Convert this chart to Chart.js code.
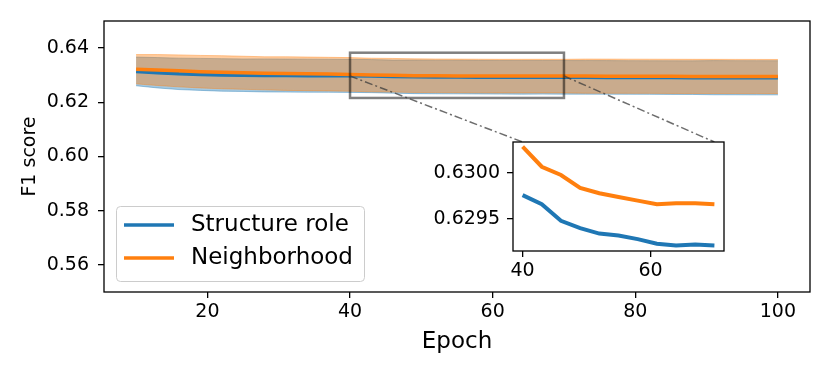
<!DOCTYPE html>
<html>
<head>
<meta charset="utf-8">
<script src="https://cdn.jsdelivr.net/npm/chart.js@4.4.1/dist/chart.umd.min.js"></script>
<style>
body { margin: 0; background: #fff; }
#wrap { position: relative; width: 830px; height: 374px; }
#mainChart { position: absolute; left: 0; top: 0; }
#insetChart { position: absolute; left: 420px; top: 135px; }
</style>
</head>
<body>
<div id="wrap">
<canvas id="mainChart" width="830" height="374"></canvas>
<canvas id="insetChart" width="315" height="150"></canvas>
</div>
<script>
// datos
var epochs = [10, 13, 16, 19, 22, 25, 28, 31, 34, 37, 40, 43, 46, 49, 52, 55, 58, 61, 64, 67, 70,
	73, 76, 79, 82, 85, 88, 91, 94, 97, 100];

var structureMean = [0.6314, 0.6309, 0.6305, 0.6303, 0.6301, 0.6300, 0.62992, 0.62987, 0.62983, 0.62980,
	0.62976, 0.62966, 0.62948, 0.62940, 0.62934, 0.62932, 0.62928, 0.62923, 0.62921, 0.62922, 0.62921,
	0.62920, 0.62918, 0.62916, 0.62914, 0.62912, 0.62910, 0.62908, 0.62907, 0.62905, 0.62904];
var structureStd = [0.0053, 0.0056, 0.0058, 0.0059, 0.0060, 0.0060, 0.0061, 0.0061, 0.0061, 0.0061,
	0.0061, 0.0061, 0.0061, 0.0062, 0.0062, 0.0062, 0.0062, 0.0062, 0.0062, 0.0062, 0.0062,
	0.0062, 0.0062, 0.0062, 0.0062, 0.0062, 0.0062, 0.0063, 0.0063, 0.0063, 0.0063];

var neighborMean = [0.6322, 0.6319, 0.6316, 0.6313, 0.6311, 0.6309, 0.6307, 0.6306, 0.6305, 0.6304,
	0.63029, 0.63007, 0.62998, 0.62984, 0.62978, 0.62974, 0.62970, 0.62966, 0.62967, 0.62967, 0.62966,
	0.62966, 0.62964, 0.62962, 0.62960, 0.62958, 0.62956, 0.62955, 0.62953, 0.62952, 0.62950];
var neighborStd = [0.0054, 0.0057, 0.0059, 0.0060, 0.0061, 0.0061, 0.0061, 0.0062, 0.0062, 0.0062,
	0.0062, 0.0062, 0.0062, 0.0062, 0.0062, 0.0062, 0.0062, 0.0062, 0.0062, 0.0062, 0.0062,
	0.0063, 0.0063, 0.0063, 0.0063, 0.0063, 0.0063, 0.0063, 0.0063, 0.0063, 0.0063];

var seriesNames = ['Structure role', 'Neighborhood'];

var xTicks = [20, 40, 60, 80, 100];
var yTicks = [0.56, 0.58, 0.60, 0.62, 0.64];
var insetXTicks = [40, 60];
var insetYTicks = [0.6295, 0.6300];

var zoomEpochs = [40, 70];          // rango del recuadro
var zoomBoxY = [0.6216, 0.6383];    // alto del recuadro en la grafica principal
var connectorY = 0.6297;            // donde arrancan las lineas punteadas

var blue = '#1f77b4';
var orange = '#ff7f0e';

var insetLeft = 420;
var insetTop = 135;

Chart.defaults.font.family = 'DejaVu Sans';
Chart.defaults.color = '#000';

function puntos(values) {
	return epochs.map(function(e, i) {
		return { x: e, y: values[i] };
	});
}

function banda(values, std, signo) {
	return epochs.map(function(e, i) {
		return { x: e, y: values[i] + signo * std[i] };
	});
}

function puntosZoom(values) {
	var out = [];
	epochs.forEach(function(e, i) {
		if (e >= zoomEpochs[0] && e <= zoomEpochs[1]) out.push({ x: e, y: values[i] });
	});
	return out;
}

function fijarTicks(lista) {
	return function(scale) {
		scale.ticks = lista.map(function(v) { return { value: v }; });
	};
}

// tamaño fijo del eje, sin el relleno extra que agrega Chart.js
function altoFijo(h) {
	return function(scale) {
		scale.height = h;
		scale.paddingLeft = 0;
		scale.paddingRight = 0;
	};
}
function anchoFijo(w) {
	return function(scale) {
		scale.width = w;
		scale.paddingTop = 0;
		scale.paddingBottom = 0;
	};
}

// marco negro en los cuatro lados
var marco = {
	id: 'marco',
	beforeDatasetsDraw: function(chart, args, opts) {
		if (!opts.fondo) return;
		var a = chart.chartArea;
		var ctx = chart.ctx;
		ctx.save();
		ctx.fillStyle = '#fff';
		ctx.fillRect(a.left, a.top, a.right - a.left, a.bottom - a.top);
		ctx.restore();
	},
	afterDraw: function(chart) {
		var a = chart.chartArea;
		var ctx = chart.ctx;
		ctx.save();
		ctx.strokeStyle = '#000';
		ctx.lineWidth = 1.3;
		ctx.strokeRect(a.left, a.top, a.right - a.left, a.bottom - a.top);
		ctx.restore();
	}
};

// ----- grafica pequeña (zoom) -----
var insetChart = new Chart(document.getElementById('insetChart').getContext('2d'), {
	type: 'line',
	data: {
		datasets: [
			{ label: seriesNames[1], data: puntosZoom(neighborMean), borderColor: orange, borderWidth: 4, pointRadius: 0, order: 1 },
			{ label: seriesNames[0], data: puntosZoom(structureMean), borderColor: blue, borderWidth: 4, pointRadius: 0, order: 2 }
		]
	},
	options: {
		responsive: false,
		animation: false,
		devicePixelRatio: 1,
		layout: { padding: { left: 0, right: 11, top: 7, bottom: 0 } },
		plugins: { legend: { display: false }, tooltip: { enabled: false }, marco: { fondo: true } },
		scales: {
			x: {
				type: 'linear', min: 38.5, max: 71.5,
				afterBuildTicks: fijarTicks(insetXTicks),
				afterFit: altoFijo(34),
				border: { display: false },
				grid: { drawOnChartArea: false, tickLength: 6, color: '#000', lineWidth: 1.3 },
				ticks: { font: { size: 19 }, padding: 3, maxRotation: 0 }
			},
			y: {
				min: 0.62915, max: 0.63034,
				afterBuildTicks: fijarTicks(insetYTicks),
				afterFit: anchoFijo(93),
				border: { display: false },
				grid: { drawOnChartArea: false, tickLength: 6, color: '#000', lineWidth: 1.3 },
				ticks: { font: { size: 19 }, padding: 7, callback: function(v) { return v.toFixed(4); } }
			}
		}
	},
	plugins: [marco]
});

// recuadro, lineas hacia el zoom y leyenda
var extras = {
	id: 'extras',
	afterDatasetsDraw: function(chart) {
		var ctx = chart.ctx;
		var sx = chart.scales.x, sy = chart.scales.y;
		var x0 = sx.getPixelForValue(zoomEpochs[0]), x1 = sx.getPixelForValue(zoomEpochs[1]);
		var y0 = sy.getPixelForValue(zoomBoxY[1]), y1 = sy.getPixelForValue(zoomBoxY[0]);
		ctx.save();
		ctx.strokeStyle = 'rgba(0,0,0,0.5)';
		ctx.lineWidth = 2.5;
		ctx.strokeRect(x0, y0, x1 - x0, y1 - y0);

		var ix = insetChart.scales.x;
		var iTop = insetTop + insetChart.chartArea.top;
		var yc = sy.getPixelForValue(connectorY);
		ctx.strokeStyle = 'rgba(60,60,60,0.75)';
		ctx.lineWidth = 1.5;
		ctx.setLineDash([8, 3, 2, 3]);
		zoomEpochs.forEach(function(e) {
			ctx.beginPath();
			ctx.moveTo(sx.getPixelForValue(e), yc);
			ctx.lineTo(insetLeft + ix.getPixelForValue(e), iTop);
			ctx.stroke();
		});
		ctx.restore();

		// leyenda
		var lx = 116, ly = 206, lw = 248, lh = 75;
		ctx.save();
		ctx.fillStyle = 'rgba(255,255,255,0.8)';
		ctx.strokeStyle = '#cccccc';
		ctx.lineWidth = 1;
		ctx.beginPath();
		ctx.roundRect(lx + 0.5, ly + 0.5, lw, lh, 4);
		ctx.fill();
		ctx.stroke();
		var colores = [blue, orange];
		ctx.font = '23px "DejaVu Sans"';
		ctx.textBaseline = 'middle';
		ctx.fillStyle = '#000';
		seriesNames.forEach(function(nombre, i) {
			var yy = ly + 19 + i * 33;
			ctx.strokeStyle = colores[i];
			ctx.lineWidth = 3.5;
			ctx.beginPath();
			ctx.moveTo(lx + 8, yy);
			ctx.lineTo(lx + 58, yy);
			ctx.stroke();
			ctx.fillText(nombre, lx + 75, yy);
		});
		ctx.restore();
	}
};

var mainChart = new Chart(document.getElementById('mainChart').getContext('2d'), {
	type: 'line',
	data: {
		datasets: [
			{ label: seriesNames[1], data: puntos(neighborMean), borderColor: orange, borderWidth: 3.5, pointRadius: 0, order: 1 },
			{ label: seriesNames[0], data: puntos(structureMean), borderColor: blue, borderWidth: 3.5, pointRadius: 0, order: 2 },
			{ data: banda(neighborMean, neighborStd, 1), borderColor: 'rgba(255,127,14,0.4)', borderWidth: 1, pointRadius: 0,
				backgroundColor: 'rgba(255,127,14,0.4)', fill: '+1', order: 3 },
			{ data: banda(neighborMean, neighborStd, -1), borderColor: 'rgba(255,127,14,0.4)', borderWidth: 1, pointRadius: 0, order: 3 },
			{ data: banda(structureMean, structureStd, 1), borderColor: 'rgba(31,119,180,0.4)', borderWidth: 1, pointRadius: 0,
				backgroundColor: 'rgba(31,119,180,0.4)', fill: '+1', order: 4 },
			{ data: banda(structureMean, structureStd, -1), borderColor: 'rgba(31,119,180,0.4)', borderWidth: 1, pointRadius: 0, order: 4 }
		]
	},
	options: {
		responsive: false,
		animation: false,
		devicePixelRatio: 1,
		layout: { padding: { left: 0, right: 20, top: 21, bottom: 0 } },
		plugins: { legend: { display: false }, tooltip: { enabled: false }, marco: { fondo: false } },
		scales: {
			x: {
				type: 'linear', min: 5.5, max: 104.5,
				afterBuildTicks: fijarTicks(xTicks),
				afterFit: altoFijo(82),
				border: { display: false },
				grid: { drawOnChartArea: false, tickLength: 6, color: '#000', lineWidth: 1.3 },
				ticks: { font: { size: 19 }, padding: 3, maxRotation: 0 },
				title: { display: true, text: 'Epoch', font: { size: 23 }, padding: { top: 0, bottom: 18 } }
			},
			y: {
				min: 0.55, max: 0.65,
				afterBuildTicks: fijarTicks(yTicks),
				afterFit: anchoFijo(104),
				border: { display: false },
				grid: { drawOnChartArea: false, tickLength: 6, color: '#000', lineWidth: 1.3 },
				ticks: { font: { size: 19 }, padding: 9, callback: function(v) { return v.toFixed(2); } },
				title: { display: true, text: 'F1 score', font: { size: 19 }, padding: { top: 19, bottom: 0 } }
			}
		}
	},
	plugins: [marco, extras]
});
</script>
</body>
</html>
